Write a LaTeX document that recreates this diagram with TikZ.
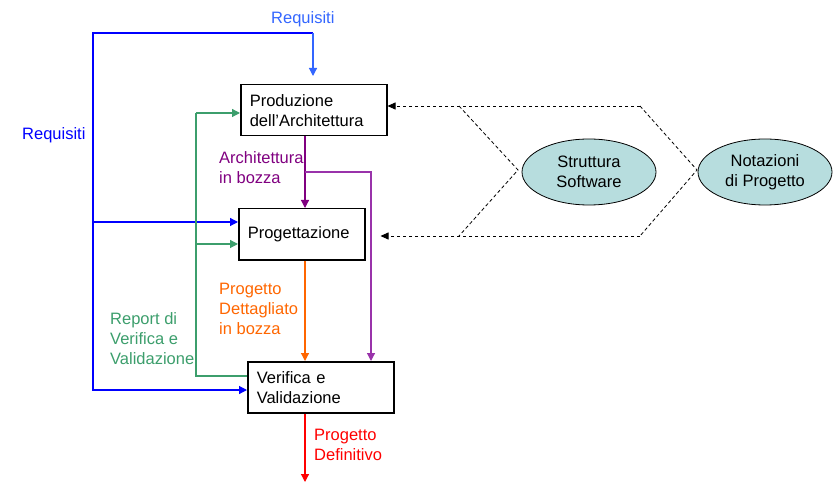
\documentclass[tikz,border=0pt]{standalone}
\usepackage{fontspec}
\setmainfont{Liberation Sans}
\usetikzlibrary{arrows.meta,shapes.geometric}
\definecolor{reqblue}{RGB}{0,0,255}
\definecolor{reqlight}{RGB}{51,102,255}
\definecolor{repgreen}{RGB}{60,158,108}
\definecolor{archpurple}{RGB}{128,0,128}
\definecolor{archpurple2}{RGB}{153,51,170}
\definecolor{progorange}{RGB}{255,102,0}
\definecolor{defred}{RGB}{255,0,0}
\definecolor{ellfill}{RGB}{183,221,222}
\tikzset{
  every node/.style={font=\fontsize{16.5bp}{20bp}\selectfont},
  procbox/.style={draw=black, line width=1.5bp, minimum height=51bp, inner xsep=9bp, inner ysep=0pt, align=left, anchor=north west},
  ell/.style={draw=black, line width=0.8bp, fill=ellfill, ellipse, minimum width=134bp, minimum height=66bp, inner sep=0pt, align=center},
  lbl/.style={inner sep=0pt, anchor=west, align=left},
  flow/.style={line width=1.2bp, -{Triangle[length=8bp,width=8bp]}},
  plain/.style={line width=1.2bp},
  dashln/.style={line width=0.8bp, dash pattern=on 3.5bp off 2.5bp},
  dasharr/.style={dashln, -{Triangle[length=8bp,width=7bp]}}
}
\begin{document}
\begin{tikzpicture}[x=1bp,y=-1bp]
\useasboundingbox (0,0) rectangle (834,482);
% boxes
\node[procbox, text width=128bp, minimum width=146bp] (b1) at (240,84) {Produzione\\dell’Architettura};
\node[procbox, text width=108bp, minimum width=126bp] (b2) at (238,208) {Progettazione};
\node[procbox, text width=128bp, minimum width=146bp] (b3) at (247,361) {Verifica e\\Validazione};
% ellipses
\node[ell] (e1) at (589,172) {Struttura\\Software};
\node[ell] (e2) at (765,172) {Notazioni\\di Progetto};
% labels
\node[lbl, text=reqlight] (lrq1) at (271,19.5) {Requisiti};
\node[lbl, text=reqblue] (lrq2) at (22,135) {Requisiti};
\node[lbl, text=archpurple] (larch) at (219,168) {Architettura\\in bozza};
\node[lbl, text=progorange] (lprog) at (219,309) {Progetto\\Dettagliato\\in bozza};
\node[lbl, text=repgreen] (lrep) at (110,339) {Report di\\Verifica e\\Validazione};
\node[lbl, text=defred] (ldef) at (314,445) {Progetto\\Definitivo};
% coordinates
\coordinate (tl) at (93,33);
\coordinate (tr) at (313,33);
\coordinate (bl) at (93,390);
\coordinate (mb) at (93,222);
\coordinate (g1) at (196,113);
\coordinate (g2) at (196,376);
\coordinate (g3) at (196,244);
\coordinate (pj) at (305,172);
\coordinate (pk) at (371,172);
\coordinate (out) at (305,482);
\coordinate (d1) at (640,106);
\coordinate (d2) at (697,170);
\coordinate (d3) at (640,236);
\coordinate (d4) at (459,106);
\coordinate (d5) at (518,170);
\coordinate (d6) at (459,236);
% blue requisiti
\draw[flow, reqblue] (tr) -- (tl) -- (bl) -- (b3.west |- bl);
\draw[flow, reqblue] (mb) -- (b2.west |- mb);
\draw[flow, reqlight, shorten >=8bp] (tr) -- (b1.north -| tr);
% green report
\draw[plain, repgreen] (b3.west |- g2) -- (g2) -- (g1);
\draw[flow, repgreen] (g1) -- (b1.west |- g1);
\draw[flow, repgreen] (g3) -- (b2.west |- g3);
% purple
\draw[flow, archpurple] (b1.south -| pj) -- (b2.north -| pj);
\draw[flow, archpurple2] (pj) -- (pk) -- (b3.north -| pk);
% orange
\draw[flow, progorange] (b2.south -| pj) -- (b3.north -| pj);
% red
\draw[flow, defred] (b3.south -| pj) -- (out);
% dashed
\draw[dasharr] (d1) -- (b1.east |- d1);
\draw[dashln] (d1) -- (d2) -- (d3);
\draw[dasharr, shorten >=15bp] (d3) -- (b2.east |- d3);
\draw[dashln] (d4) -- (d5) -- (d6);
\end{tikzpicture}
\end{document}
